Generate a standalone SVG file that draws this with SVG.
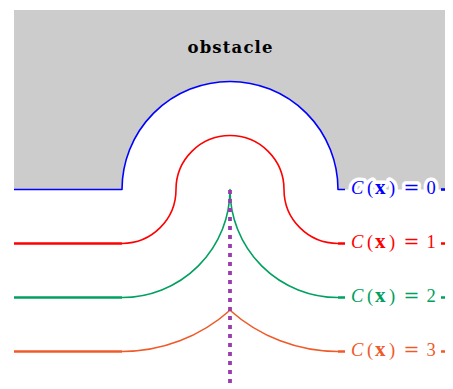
<svg xmlns="http://www.w3.org/2000/svg" width="453" height="389" viewBox="0 0 453 389">
<style>
  .curve{fill:none;stroke-width:1.6;stroke-linejoin:round}
  .flat{fill:none;stroke-width:2.6}
  .lbl{font-family:"Liberation Serif","Times New Roman",serif;font-size:18.5px;stroke:#ffffff;stroke-width:7;stroke-linejoin:round;paint-order:stroke fill}
  .it{font-style:italic}
  .bf{font-weight:bold;font-size:21px}
  .eq{font-family:"DejaVu Serif",serif;font-size:19px}
  .blue{stroke:#0000ff}
  .red{stroke:#ff0000}
  .green{stroke:#00a060}
  .orange{stroke:#f05a28}
</style>
<rect width="453" height="389" fill="#ffffff"/>
<g id="obstacle">
  <path d="M14,10 H445 V189.5 H338 A108,108 0 0 0 122,189.5 H14 Z" fill="#cccccc"/>
  <text x="230" y="53" text-anchor="middle" textLength="85" lengthAdjust="spacing" font-family="DejaVu Serif, serif" font-weight="bold" font-size="16.5">obstacle</text>
</g>
<g id="connectors">
  <g id="contour-0">
    <path class="curve blue" stroke-width="1.8" d="M14,189.5 H122 A108,108 0 0 1 338,189.5 H345"/>
    <path class="flat blue" stroke-width="2" d="M441,189.5 H445"/>
  </g>
  <g id="contour-1">
    <path class="flat red" d="M14,243.5 H122"/>
    <path class="curve red" d="M122,243.5 A54,54 0 0 0 176,189.5 A54,54 0 0 1 284,189.5 A54,54 0 0 0 338,243.5"/>
    <path class="flat red" d="M338,243.5 H345 M441,243.5 H445"/>
  </g>
  <g id="contour-2">
    <path class="flat green" d="M14,297.5 H122"/>
    <path class="curve green" d="M122,297.5 A108,108 0 0 0 230,189.5 A108,108 0 0 0 338,297.5"/>
    <path class="flat green" d="M338,297.5 H345 M441,297.5 H445"/>
  </g>
  <g id="contour-3">
    <path class="flat orange" d="M14,351.5 H122"/>
    <path class="curve orange" d="M122,351.5 A162,162 0 0 0 230,310.25 A162,162 0 0 0 338,351.5"/>
    <path class="flat orange" d="M338,351.5 H345 M441,351.5 H445"/>
  </g>
  <path id="axis" d="M230,190 V384" fill="none" stroke="#9b3bb0" stroke-width="3.8" stroke-dasharray="4 5"/>
</g>
<g id="label-0" fill="#0000ff">
  <text class="lbl" y="194"><tspan class="it" x="351">C</tspan><tspan x="367">(</tspan><tspan class="bf" x="375">x</tspan><tspan x="389">)</tspan><tspan class="eq" x="403.5">=</tspan><tspan x="426.5">0</tspan></text>
</g>
<g id="label-1" fill="#ff0000">
  <text class="lbl" y="248"><tspan class="it" x="351">C</tspan><tspan x="367">(</tspan><tspan class="bf" x="375">x</tspan><tspan x="389">)</tspan><tspan class="eq" x="403.5">=</tspan><tspan x="426.5">1</tspan></text>
</g>
<g id="label-2" fill="#00a060">
  <text class="lbl" y="302"><tspan class="it" x="351">C</tspan><tspan x="367">(</tspan><tspan class="bf" x="375">x</tspan><tspan x="389">)</tspan><tspan class="eq" x="403.5">=</tspan><tspan x="426.5">2</tspan></text>
</g>
<g id="label-3" fill="#f05a28">
  <text class="lbl" y="356"><tspan class="it" x="351">C</tspan><tspan x="367">(</tspan><tspan class="bf" x="375">x</tspan><tspan x="389">)</tspan><tspan class="eq" x="403.5">=</tspan><tspan x="426.5">3</tspan></text>
</g>
</svg>
